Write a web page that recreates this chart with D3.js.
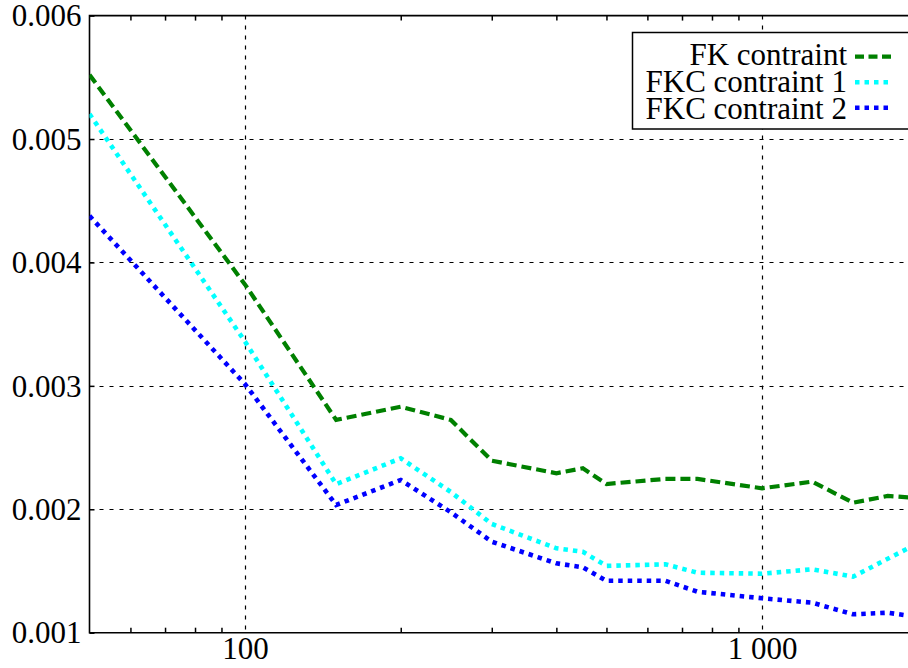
<!DOCTYPE html>
<html>
<head>
<meta charset="utf-8">
<script src="https://cdn.jsdelivr.net/npm/d3@7"></script>
<style>
	body { margin: 0; padding: 0; background: white; }
	svg { display: block; }
	svg text { font-family: "Liberation Serif", "Times New Roman", Times, "Noto Serif", "DejaVu Serif", FreeSerif, serif !important; fill: black; }
</style>
</head>
<body>
<script>

//--------------------------------DATA------------------------------------------------
var sampleSizes = [50, 100, 150, 200, 250, 300, 400, 450, 500, 650, 750, 1000, 1250, 1500, 1750, 2000];

var fkValues   = [0.00552, 0.00382, 0.002724, 0.002831, 0.002724, 0.002394, 0.002292, 0.002332, 0.002205, 0.002246, 0.002246, 0.00217, 0.002224, 0.002053, 0.002108, 0.002092];
var fkc1Values = [0.005203, 0.003358, 0.002203, 0.002413, 0.00214, 0.001881, 0.001684, 0.001656, 0.001541, 0.001554, 0.001486, 0.001478, 0.001514, 0.001454, 0.001599, 0.001724];
var fkc2Values = [0.004377, 0.003013, 0.002035, 0.002237, 0.001976, 0.001737, 0.001562, 0.00153, 0.001421, 0.001421, 0.001332, 0.001279, 0.001243, 0.001149, 0.001162, 0.001127];

var seriesNames = ["FK contraint", "FKC contraint 1", "FKC contraint 2"];
var seriesColors = ["#008000", "#00ffff", "#0000ff"];

var xMajorTicks = [100, 1000];
var xTickLabels = ["100", "1 000"];
var xMinorTicks = [60, 70, 80, 90, 200, 300, 400, 500, 600, 700, 800, 900];
var yTicks = [0.001, 0.002, 0.003, 0.004, 0.005, 0.006];
var yTickLabels = ["0.001", "0.002", "0.003", "0.004", "0.005", "0.006"];
//------------------------------------------------------------------------------------

var width = 908, height = 668;
// plot box (right side runs past the picture edge, like the original)
var plotLeft = 89.5, plotRight = 917.7, plotTop = 15.6, plotBottom = 632.7;
var fontSize = 31;
var serifFont = '"Liberation Serif", "Times New Roman", Times, "Noto Serif", "DejaVu Serif", serif';

var svg = d3.select("body").append("svg")
	.attr("width", width)
	.attr("height", height);

svg.append("rect").attr("width", width).attr("height", height).attr("fill", "white");

var x = d3.scaleLog().domain([50, 2000]).range([plotLeft, plotRight]);
var y = d3.scaleLinear().domain([0.001, 0.006]).range([plotBottom, plotTop]);

//--------------------------------grid------------------------------------------------
var grid = svg.append("g").attr("stroke", "black").attr("stroke-width", 1.2).attr("stroke-dasharray", "4,6");

grid.selectAll(".hgrid")
	.data(yTicks.slice(1, -1))
	.enter().append("line")
	.attr("x1", plotLeft).attr("x2", plotRight)
	.attr("y1", d => Math.round(y(d)) + 0.5).attr("y2", d => Math.round(y(d)) + 0.5);

grid.selectAll(".vgrid")
	.data(xMajorTicks)
	.enter().append("line")
	.attr("y1", plotTop).attr("y2", plotBottom)
	.attr("x1", d => Math.round(x(d)) + 0.5).attr("x2", d => Math.round(x(d)) + 0.5);

//--------------------------------axes------------------------------------------------
// minor ticks pointing inward, top and bottom
svg.append("g")
	.attr("transform", "translate(0," + plotBottom + ")")
	.call(d3.axisBottom(x).tickValues(xMinorTicks).tickSize(-5).tickFormat(""))
	.call(g => g.select(".domain").remove())
	.selectAll("line").attr("stroke-width", 1.5);

svg.append("g")
	.attr("transform", "translate(0," + plotTop + ")")
	.call(d3.axisTop(x).tickValues(xMinorTicks).tickSize(-5).tickFormat(""))
	.call(g => g.select(".domain").remove())
	.selectAll("line").attr("stroke-width", 1.5);

var xAxis = svg.append("g")
	.attr("transform", "translate(0," + plotBottom + ")")
	.attr("font-family", serifFont)
	.call(d3.axisBottom(x).tickValues(xMajorTicks).tickSize(0).tickPadding(4)
		.tickFormat((d, i) => xTickLabels[i]));
xAxis.attr("font-family", serifFont).attr("font-size", fontSize);
xAxis.select(".domain").remove();

var yAxis = svg.append("g")
	.attr("transform", "translate(" + plotLeft + ",0)")
	.call(d3.axisLeft(y).tickValues(yTicks).tickSize(-5).tickPadding(8)
		.tickFormat((d, i) => yTickLabels[i]));
yAxis.attr("font-family", serifFont).attr("font-size", fontSize);
yAxis.select(".domain").remove();
yAxis.selectAll("line").attr("stroke-width", 1.5);
yAxis.selectAll("text").attr("dy", "0.33em");

// frame
svg.append("path")
	.attr("d", "M" + plotRight + "," + plotTop + "H" + plotLeft + "V" + plotBottom + "H" + plotRight)
	.attr("fill", "none")
	.attr("stroke", "black")
	.attr("stroke-width", 1.6);

//--------------------------------lines-----------------------------------------------
var allSeries = [fkValues, fkc1Values, fkc2Values];
var dashes = ["10,5", "4.5,5", "4.5,5"];

svg.append("clipPath").attr("id", "plotClip")
	.append("rect").attr("x", plotLeft).attr("y", plotTop).attr("width", plotRight - plotLeft).attr("height", plotBottom - plotTop);

var line = d3.line()
	.x((d, i) => x(sampleSizes[i]))
	.y(d => y(d));

svg.append("g").attr("clip-path", "url(#plotClip)")
	.selectAll("path")
	.data(allSeries)
	.enter().append("path")
	.attr("d", line)
	.attr("fill", "none")
	.attr("stroke", (d, i) => seriesColors[i])
	.attr("stroke-width", (d, i) => i == 0 ? 4.2 : 4.6)
	.attr("stroke-dasharray", (d, i) => dashes[i]);

//--------------------------------legend----------------------------------------------
var legend = svg.append("g").attr("font-family", serifFont);
legend.append("rect")
	.attr("x", 632.5).attr("y", 32.5)
	.attr("width", 290).attr("height", 96.5)
	.attr("fill", "white")
	.attr("stroke", "black")
	.attr("stroke-width", 1.5);

var legendRows = legend.selectAll(".row")
	.data(seriesNames)
	.enter().append("g");

legendRows.append("text")
	.attr("x", 847)
	.attr("y", (d, i) => 64.5 + i * 27)
	.attr("text-anchor", "end")
	.attr("font-size", fontSize)
	.text(d => d);

legendRows.append("line")
	.attr("x1", 855).attr("x2", 891)
	.attr("y1", (d, i) => 56.7 + i * 25.5)
	.attr("y2", (d, i) => 56.7 + i * 25.5)
	.attr("stroke", (d, i) => seriesColors[i])
	.attr("stroke-width", (d, i) => i == 0 ? 4.2 : 4.6)
	.attr("stroke-dasharray", (d, i) => i == 0 ? "9,4.5" : "4.5,5");

</script>
</body>
</html>
